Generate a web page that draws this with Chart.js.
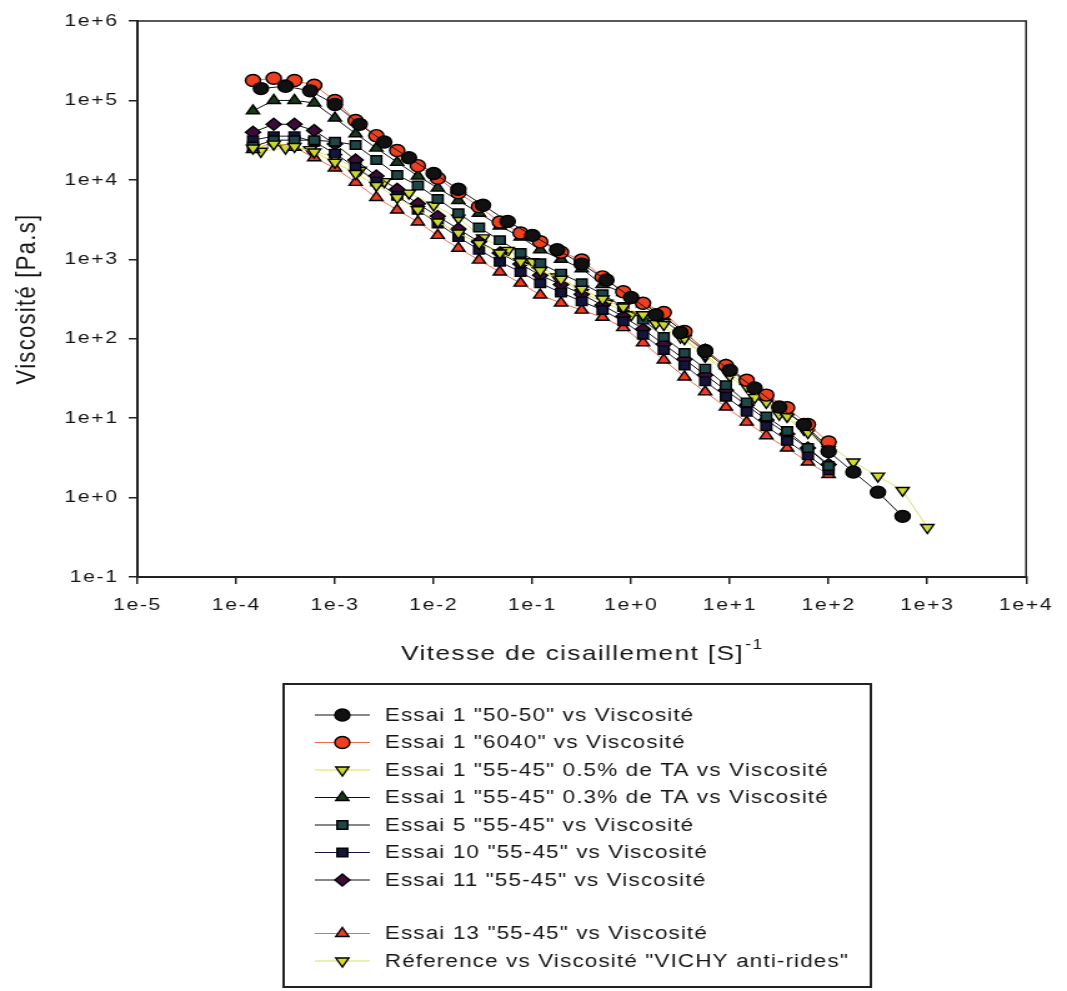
<!DOCTYPE html>
<html>
<head>
<meta charset="utf-8">
<title>Viscosité</title>
<script src="https://cdn.jsdelivr.net/npm/chart.js@4.4.1/dist/chart.umd.min.js"></script>
<style>
  html, body { margin: 0; padding: 0; background: #fff; overflow: hidden; }
  /* l'original est étiré horizontalement */
  #box { width: 854px; height: 991px; transform: scaleX(1.2494); transform-origin: 0 0; }
</style>
</head>
<body>
<div id="box"><canvas id="viscoChart" width="854" height="991"></canvas></div>
<script>
// Vitesse de cisaillement (s-1), balayage 1.5e-4 -> 100
const shearA = [1.48e-4, 2.40e-4, 3.89e-4, 6.17e-4, 1.00e-3, 1.62e-3, 2.63e-3, 4.27e-3, 6.92e-3, 1.10e-2,
    1.78e-2, 2.88e-2, 4.68e-2, 7.59e-2, 0.120, 0.195, 0.316, 0.513, 0.832, 1.32,
    2.14, 3.47, 5.62, 9.12, 14.8, 23.4, 38.0, 61.7, 100];
// 4 points par décade
const shear5050 = [1.78e-4, 3.16e-4, 5.62e-4, 1.0e-3, 1.78e-3, 3.16e-3, 5.62e-3, 1.0e-2, 1.78e-2, 3.16e-2,
    5.62e-2, 0.1, 0.178, 0.316, 0.562, 1, 1.78, 3.16, 5.62, 10,
    17.8, 31.6, 56.2, 100, 178, 316, 562];
const shearRef = [1.78e-4, 3.16e-4, 5.62e-4, 1.0e-3, 1.78e-3, 3.16e-3, 5.62e-3, 1.0e-2, 1.78e-2, 3.16e-2,
    5.62e-2, 0.1, 0.178, 0.316, 0.562, 1, 1.78, 3.16, 5.62, 10,
    17.8, 31.6, 56.2, 100, 178, 316, 562, 1000];

// Viscosité (Pa.s)
const visc5050 = [141000, 151000, 132000, 89000, 50000, 30000, 19000, 12000, 7600, 4800,
    3000, 2000, 1320, 870, 550, 330, 200, 120, 69, 40,
    24, 13.8, 8.3, 3.8, 2.1, 1.17, 0.58];
const visc6040 = [178000, 190000, 178000, 155000, 100000, 56000, 36000, 23400, 15100, 10500,
    6900, 4600, 2950, 2140, 1660, 1230, 980, 600, 390, 280,
    214, 123, 71, 46, 30, 19.5, 13.5, 8.3, 5.0];
const visc05TA = [25100, 28200, 26300, 22400, 16600, 12000, 8500, 6000, 4200, 2950,
    2140, 1580, 1200, 930, 720, 560, 420, 316, 250, 200,
    151, 100, 63, 40, 25, 15.8, 10.5, 6.6, 4.0];
const visc03TA = [74000, 100000, 100000, 93000, 60000, 38000, 25100, 16600, 11200, 7900,
    5500, 3800, 2630, 1900, 1320, 1000, 760, 480, 380, 275,
    190, 120, 72, 46, 29, 18.6, 12.0, 7.6, 4.2];
const viscEssai5 = [26300, 31600, 31600, 31600, 30200, 27500, 17800, 11500, 8500, 5750,
    3800, 2510, 1740, 1200, 890, 660, 500, 363, 251, 174,
    105, 66, 42, 26, 15.8, 10.5, 6.9, 4.2, 2.5];
const viscEssai10 = [31600, 35500, 35500, 30200, 21400, 14500, 9500, 6300, 4200, 2820,
    1900, 1320, 930, 690, 500, 380, 295, 229, 166, 112,
    72, 46, 29, 18.6, 12.0, 7.9, 5.2, 3.4, 2.2];
const viscEssai11 = [39800, 50100, 50100, 41700, 28200, 17800, 11200, 7600, 5000, 3470,
    2400, 1660, 1200, 870, 630, 480, 363, 263, 190, 132,
    85, 55, 35, 22.4, 14.5, 9.5, 6.3, 4.2, 2.6];
const viscEssai13 = [24000, 29500, 25700, 19000, 14100, 9300, 6000, 4170, 2950, 2000,
    1380, 977, 692, 501, 355, 282, 229, 186, 138, 89,
    54, 33, 21.4, 13.8, 8.9, 6.0, 4.2, 2.8, 1.95];
const viscRef = [22900, 25100, 24000, 19100, 13200, 9500, 6800, 4800, 3300, 1860,
    1290, 930, 600, 380, 280, 200, 155, 105, 60, 34,
    18.2, 11.2, 7.2, 4.6, 2.8, 1.86, 1.23, 0.42];

// Graduations
const xTicks = [1e-5, 1e-4, 1e-3, 1e-2, 1e-1, 1e0, 1e1, 1e2, 1e3, 1e4];
const xTickLabels = ['1e-5', '1e-4', '1e-3', '1e-2', '1e-1', '1e+0', '1e+1', '1e+2', '1e+3', '1e+4'];
const yTicks = [1e-1, 1e0, 1e1, 1e2, 1e3, 1e4, 1e5, 1e6];
const yTickLabels = ['1e-1', '1e+0', '1e+1', '1e+2', '1e+3', '1e+4', '1e+5', '1e+6'];

const seriesNames = [
    'Essai 1 "50-50" vs Viscosité',
    'Essai 1 "6040" vs Viscosité',
    'Essai 1 "55-45" 0.5% de TA vs Viscosité',
    'Essai 1 "55-45" 0.3% de TA vs Viscosité',
    'Essai 5 "55-45" vs Viscosité',
    'Essai 10 "55-45" vs Viscosité',
    'Essai 11 "55-45" vs Viscosité',
    'Essai 13 "55-45" vs Viscosité',
    'Réference vs Viscosité "VICHY anti-rides"'
];

const FONT = "'Liberation Sans', Arial, sans-serif";
const INK = '#151515';
const pts = (xs, ys) => ys.map((y, i) => ({ x: xs[i], y: y }));

function serie(i, xs, ys, fill, line, style, rot) {
    return {
        label: seriesNames[i],
        data: pts(xs, ys),
        showLine: true,
        borderColor: line,
        borderWidth: 1,
        backgroundColor: fill,
        pointBackgroundColor: fill,
        pointBorderColor: '#000',
        pointBorderWidth: 1.4,
        pointStyle: style,
        pointRotation: rot || 0,
        pointRadius: 6,
        pointHoverRadius: 6
    };
}

const datasets = [
    serie(0, shear5050, visc5050, '#111111', '#111111', 'circle'),
    serie(1, shearA, visc6040, '#ee4020', '#ef6a50', 'circle'),
    serie(2, shearA, visc05TA, '#c8d82a', '#e2e43c', 'triangle', 180),
    serie(3, shearA, visc03TA, '#183a1c', '#111111', 'triangle'),
    serie(4, shearA, viscEssai5, '#1e4646', '#111111', 'rect'),
    serie(5, shearA, viscEssai10, '#14143c', '#14143c', 'rect'),
    serie(6, shearA, viscEssai11, '#3a0c36', '#111111', 'rectRot'),
    serie(7, shearA, viscEssai13, '#f03a24', '#ef6a50', 'triangle'),
    serie(8, shearRef, viscRef, '#d2dc30', '#d8e070', 'triangle', 180)
];

// texte des graduations un peu espacé, comme l'original
const spacingPlugin = {
    id: 'spacing',
    beforeUpdate(chart) { chart.ctx.letterSpacing = '1.3px'; },
    beforeDraw(chart) { chart.ctx.letterSpacing = '1.3px'; }
};

// cadre complet + titre de l'axe x avec exposant
const framePlugin = {
    id: 'frame',
    afterDraw(chart) {
        const { ctx, chartArea: a } = chart;
        ctx.save();
        ctx.strokeStyle = '#222';
        ctx.lineWidth = 1.5;
        ctx.strokeRect(a.left, a.top, a.right - a.left, a.bottom - a.top);

        const main = 'Vitesse de cisaillement [S]';
        ctx.fillStyle = INK;
        ctx.letterSpacing = '1.1px';
        ctx.textBaseline = 'alphabetic';
        ctx.font = '21px ' + FONT;
        const w1 = ctx.measureText(main).width;
        ctx.font = '14px ' + FONT;
        const w2 = ctx.measureText('-1').width;
        const cx = (a.left + a.right) / 2;
        const x0 = cx - (w1 + w2) / 2;
        ctx.font = '21px ' + FONT;
        ctx.fillText(main, x0, 660);
        ctx.font = '14px ' + FONT;
        ctx.fillText('-1', x0 + w1 + 1, 649);
        ctx.restore();
    }
};

// légende encadrée sous le graphique
const legendPlugin = {
    id: 'boxLegend',
    afterDraw(chart) {
        const ctx = chart.ctx;
        const left = 227, top = 684, right = 697, bottom = 987;
        ctx.save();
        ctx.strokeStyle = '#222';
        ctx.lineWidth = 2;
        ctx.strokeRect(left, top, right - left, bottom - top);
        ctx.font = '18px ' + FONT;
        ctx.textBaseline = 'middle';
        ctx.letterSpacing = '0.9px';
        chart.data.datasets.forEach((ds, i) => {
            const y = 715 + i * 27.5 + (i >= 7 ? 26 : 0);
            ctx.strokeStyle = ds.borderColor;
            ctx.lineWidth = 1.2;
            ctx.beginPath();
            ctx.moveTo(252, y);
            ctx.lineTo(296, y);
            ctx.stroke();
            ctx.fillStyle = ds.pointBackgroundColor;
            ctx.strokeStyle = '#000';
            ctx.lineWidth = 1.4;
            Chart.helpers.drawPoint(ctx, {
                pointStyle: ds.pointStyle,
                rotation: ds.pointRotation,
                radius: 6,
                borderWidth: 1.4
            }, 274, y);
            ctx.fillStyle = INK;
            ctx.fillText(ds.label, 308, y + 1);
        });
        ctx.restore();
    }
};

const viscoConfig = {
    type: 'scatter',
    data: { datasets: datasets },
    options: {
        responsive: false,
        animation: false,
        layout: { padding: { left: 0, top: 21, right: 25, bottom: 324 } },
        plugins: {
            legend: { display: false },
            tooltip: { enabled: false }
        },
        scales: {
            x: {
                type: 'logarithmic',
                min: 1e-5,
                max: 1e4,
                afterBuildTicks: (axis) => { axis.ticks = xTicks.map(v => ({ value: v })); },
                afterFit: (axis) => { axis.height = 90; },
                grid: { drawOnChartArea: false, drawTicks: true, tickLength: 7, color: '#222', lineWidth: 1.5 },
                border: { color: '#222', width: 2 },
                ticks: {
                    autoSkip: false,
                    maxRotation: 0,
                    padding: 11,
                    color: INK,
                    font: { family: FONT, size: 17 },
                    callback: (v, i) => xTickLabels[i]
                }
            },
            y: {
                type: 'logarithmic',
                min: 1e-1,
                max: 1e6,
                afterBuildTicks: (axis) => { axis.ticks = yTicks.map(v => ({ value: v })); },
                afterFit: (axis) => { axis.width = 110; },
                grid: { drawOnChartArea: false, drawTicks: true, tickLength: 7, color: '#222', lineWidth: 1.5 },
                border: { color: '#222', width: 2 },
                title: {
                    display: true,
                    text: 'Viscosité [Pa.s]',
                    color: INK,
                    font: { family: FONT, size: 22 },
                    padding: { top: 9, bottom: 0 }
                },
                ticks: {
                    autoSkip: false,
                    padding: 8,
                    color: INK,
                    font: { family: FONT, size: 17 },
                    callback: (v, i) => yTickLabels[i]
                }
            }
        }
    },
    plugins: [spacingPlugin, framePlugin, legendPlugin]
};

const viscoChart = new Chart(document.getElementById('viscoChart'), viscoConfig);
</script>
</body>
</html>
